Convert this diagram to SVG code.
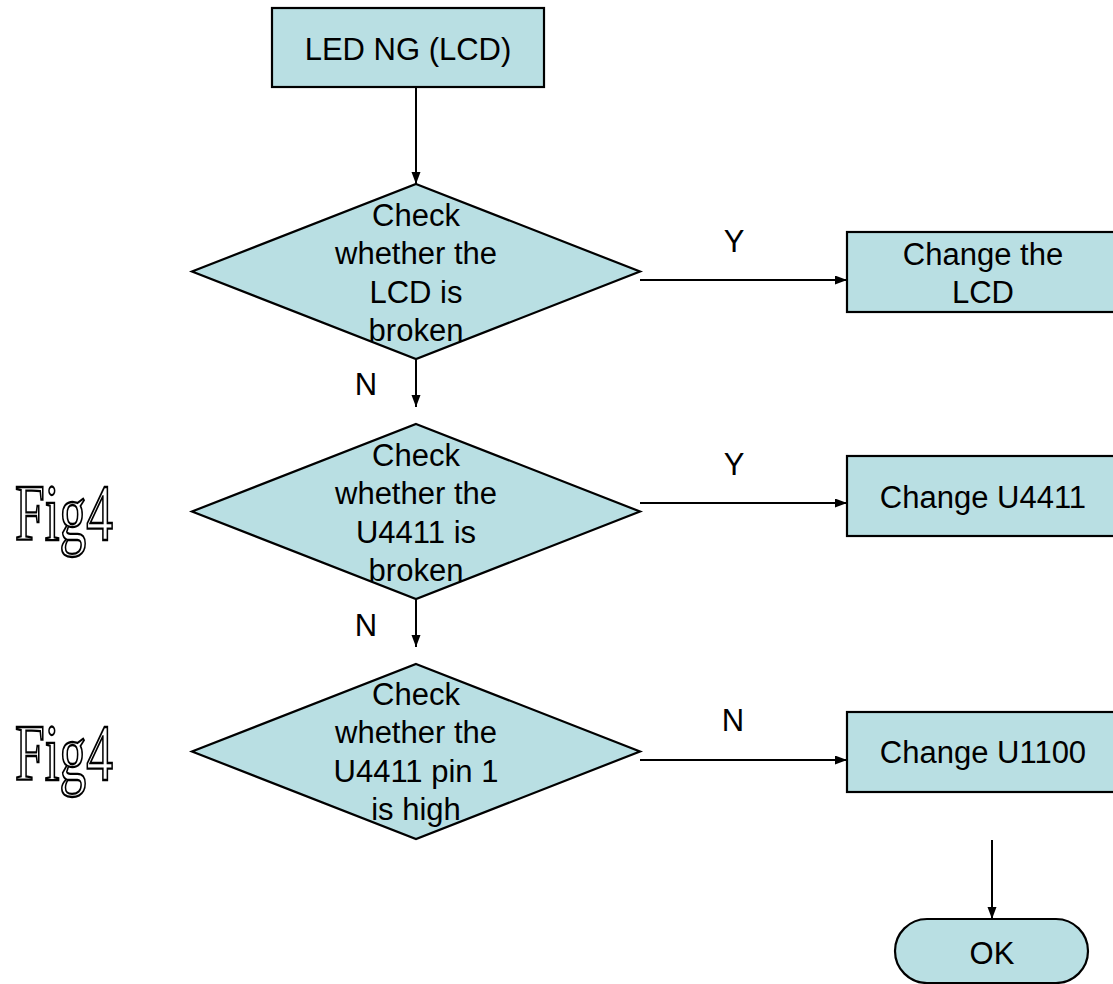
<svg xmlns="http://www.w3.org/2000/svg" width="1113" height="984" viewBox="0 0 1113 984">
<style>
.n{fill:#B9DFE3;stroke:#000;stroke-width:2.2}
.t{font-family:"Liberation Sans",Arial,sans-serif;font-size:31px;fill:#000;text-anchor:middle}
.c{stroke:#000;stroke-width:2;fill:none}
.fig{font-family:"Liberation Serif","Times New Roman",serif;font-size:80px;fill:#fff;stroke:#000;stroke-width:2.3}
</style>
<defs>
<marker id="a" markerUnits="userSpaceOnUse" markerWidth="13" markerHeight="10" refX="12" refY="4.5" orient="auto">
<path d="M0,0 L12,4.5 L0,9 z" fill="#000"/>
</marker>
</defs>
<rect width="1113" height="984" fill="#fff"/>
<g id="connectors">
<line class="c" x1="416" y1="87" x2="416" y2="184" marker-end="url(#a)"/>
<line class="c" x1="416" y1="359" x2="416" y2="407" marker-end="url(#a)"/>
<line class="c" x1="416" y1="599" x2="416" y2="647" marker-end="url(#a)"/>
<line class="c" x1="640" y1="280" x2="847" y2="280" marker-end="url(#a)"/>
<line class="c" x1="640" y1="503" x2="847" y2="503" marker-end="url(#a)"/>
<line class="c" x1="640" y1="760" x2="847" y2="760" marker-end="url(#a)"/>
<line class="c" x1="992" y1="840" x2="992" y2="919" marker-end="url(#a)"/>
<text class="t" x="734" y="252">Y</text>
<text class="t" x="734" y="475">Y</text>
<text class="t" x="733" y="731">N</text>
<text class="t" x="366" y="395">N</text>
<text class="t" x="366" y="636">N</text>
</g>
<g id="start">
<rect class="n" x="272" y="8" width="272" height="79"/>
<text class="t" x="408" y="60">LED NG (LCD)</text>
</g>
<g id="d1">
<polygon class="n" points="416,184 640,271.5 416,359 192,271.5"/>
<text class="t" x="416" y="226">Check</text>
<text class="t" x="416" y="264">whether the</text>
<text class="t" x="416" y="303">LCD is</text>
<text class="t" x="416" y="341">broken</text>
</g>
<g id="d2">
<polygon class="n" points="416,424 640,511.5 416,599 192,511.5"/>
<text class="t" x="416" y="466">Check</text>
<text class="t" x="416" y="504">whether the</text>
<text class="t" x="416" y="543">U4411 is</text>
<text class="t" x="416" y="581">broken</text>
</g>
<g id="d3">
<polygon class="n" points="416,664 640,751.5 416,839 192,751.5"/>
<text class="t" x="416" y="705">Check</text>
<text class="t" x="416" y="743">whether the</text>
<text class="t" x="416" y="782">U4411 pin 1</text>
<text class="t" x="416" y="820">is high</text>
</g>
<g id="b1">
<rect class="n" x="847" y="232" width="272" height="80"/>
<text class="t" x="983" y="265">Change the</text>
<text class="t" x="983" y="303">LCD</text>
</g>
<g id="b2">
<rect class="n" x="847" y="456" width="272" height="80"/>
<text class="t" x="983" y="508">Change U4411</text>
</g>
<g id="b3">
<rect class="n" x="847" y="712" width="272" height="80"/>
<text class="t" x="983" y="763">Change U1100</text>
</g>
<g id="ok">
<rect class="n" x="895" y="919" width="193" height="64" rx="32" ry="32"/>
<text class="t" x="992" y="964">OK</text>
</g>
<g id="fig4a">
<text class="fig" x="15" y="540" textLength="98" lengthAdjust="spacingAndGlyphs">Fig4</text>
</g>
<g id="fig4b">
<text class="fig" x="15" y="780" textLength="98" lengthAdjust="spacingAndGlyphs">Fig4</text>
</g>
</svg>
